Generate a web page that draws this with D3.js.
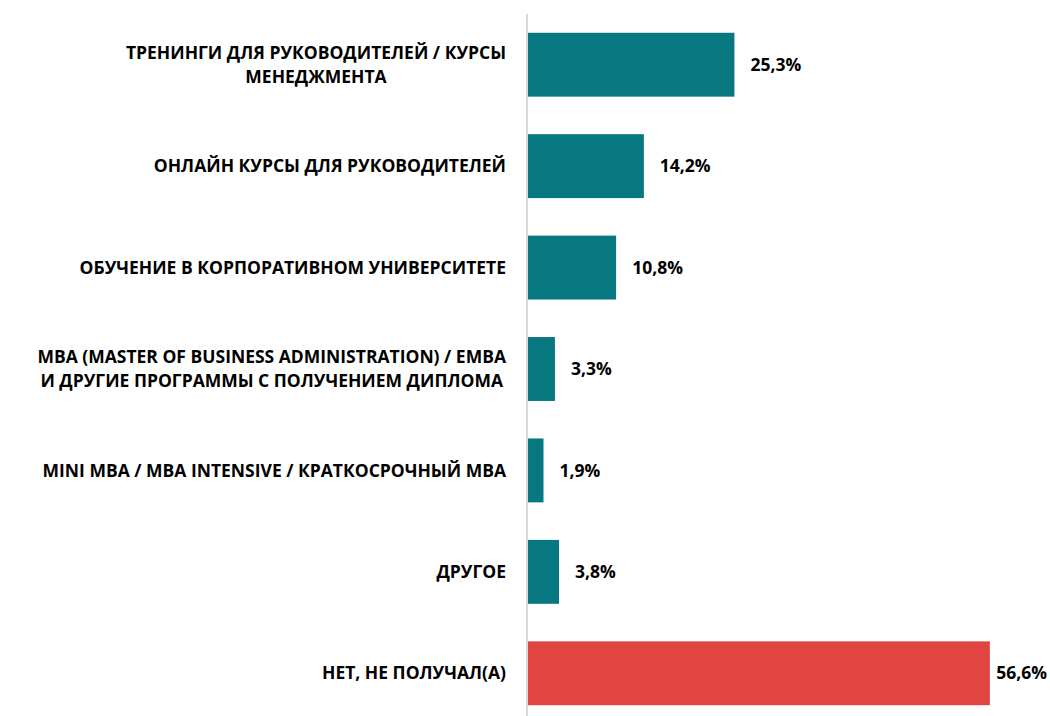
<!DOCTYPE html>
<html>
<head>
<meta charset="utf-8">
<script src="https://cdn.jsdelivr.net/npm/d3@7"></script>
<style>
  body { margin: 0; background: #fff; }
  text { font-family: "Open Sans", Lato, sans-serif; font-weight: bold; }
</style>
</head>
<body>
<div id="chart"></div>
<script>
const categories = [
  ['ТРЕНИНГИ ДЛЯ РУКОВОДИТЕЛЕЙ / КУРСЫ', 'МЕНЕДЖМЕНТА'],
  ['ОНЛАЙН КУРСЫ ДЛЯ РУКОВОДИТЕЛЕЙ'],
  ['ОБУЧЕНИЕ В КОРПОРАТИВНОМ УНИВЕРСИТЕТЕ'],
  ['MBA (MASTER OF BUSINESS ADMINISTRATION) / EMBA', 'И ДРУГИЕ ПРОГРАММЫ С ПОЛУЧЕНИЕМ ДИПЛОМА'],
  ['MINI MBA / MBA INTENSIVE / КРАТКОСРОЧНЫЙ МВА'],
  ['ДРУГОЕ'],
  ['НЕТ, НЕ ПОЛУЧАЛ(А)']
]
const values = [25.3, 14.2, 10.8, 3.3, 1.9, 3.8, 56.6]
const highlight = [false, false, false, false, false, false, true]

const width = 1050
const height = 716
const margin = { top: 14, left: 528, right: 60 }

const teal = '#077780'
const red = '#e04542'
const fontSize = 17.5

var svg = d3.select('#chart')
  .append('svg')
  .attr('width', width)
  .attr('height', height)

var x = d3.scaleLinear()
  .domain([0, 60])
  .range([margin.left, margin.left + 60 * 8.16])

var y = d3.scaleBand()
  .domain(d3.range(values.length))
  .range([margin.top, 724])
  .paddingInner(0.37)
  .paddingOuter(0.185)

var data = values.map(function(v, i) {
  return { value: v, lines: categories[i], red: highlight[i] }
})

// bars
svg.selectAll('.bar')
  .data(data)
  .enter()
  .append('rect')
  .attr('class', 'bar')
  .attr('x', x(0))
  .attr('y', (d, i) => y(i))
  .attr('width', d => x(d.value) - x(0))
  .attr('height', y.bandwidth())
  .attr('fill', d => d.red ? red : teal)

// vertical axis line
svg.append('line')
  .attr('x1', x(0) - 1)
  .attr('x2', x(0) - 1)
  .attr('y1', margin.top)
  .attr('y2', height)
  .attr('stroke', '#d9d9d9')
  .attr('stroke-width', 2)

// value labels
svg.selectAll('.value')
  .data(data)
  .enter()
  .append('text')
  .attr('class', 'value')
  .attr('y', (d, i) => y(i) + y.bandwidth() / 2)
  .attr('dy', '0.35em')
  .attr('font-size', fontSize)
  .attr('fill', '#000')
  .text(d => d3.format('.1f')(d.value).replace('.', ',') + '%')
  .attr('x', function(d) {
    var w = this.getComputedTextLength()
    return Math.min(x(d.value) + 16, width - 3 - w)
  })

// category labels, lines centred inside a block right-aligned to the axis
var labelRight = 506
var lineGap = 24
svg.selectAll('.cat')
  .data(data)
  .enter()
  .append('g')
  .attr('class', 'cat')
  .each(function(d, i) {
    var g = d3.select(this)
    var cy = y(i) + y.bandwidth() / 2
    var texts = d.lines.map(function(line, k) {
      return g.append('text')
        .attr('font-size', fontSize)
        .attr('fill', '#000')
        .attr('text-anchor', 'middle')
        .attr('y', cy + (k - (d.lines.length - 1) / 2) * lineGap)
        .attr('dy', '0.35em')
        .text(line)
    })
    var maxW = d3.max(texts, t => t.node().getComputedTextLength())
    texts.forEach(t => t.attr('x', labelRight - maxW / 2))
  })
</script>
</body>
</html>
